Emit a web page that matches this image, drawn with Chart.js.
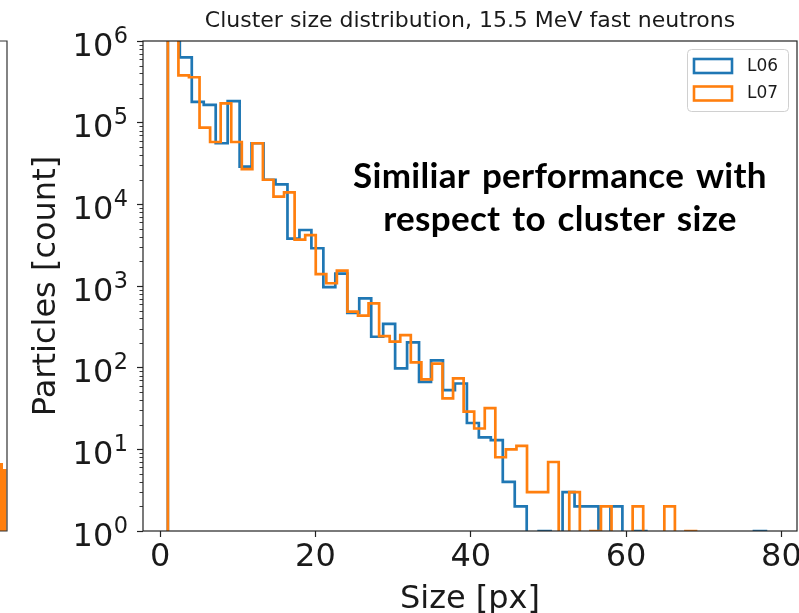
<!DOCTYPE html>
<html>
<head>
<meta charset="utf-8">
<script src="https://cdn.jsdelivr.net/npm/chart.js@4.4.1/dist/chart.umd.min.js"></script>
<style>
    html, body { margin: 0; padding: 0; background: #fff; }
    #wrap { width: 799px; height: 613px; position: relative; }
</style>
</head>
<body>
<div id="wrap"><canvas id="sizeChart" width="799" height="613"></canvas></div>
<script>
const seriesNames = ['L06', 'L07'];
const seriesColors = ['#1f77b4', '#ff7f0e'];
const l06Range = [1, 78];
const l07Range = [1, 69];

const l06Counts = [
    2500000, 630000, 180000, 165000, 56000, 184000, 29000, 56000, 20000, 17600,
    3800, 4850, 2900, 970, 1420, 470, 707, 239, 343, 98,
    204, 67, 123, 53, 64, 21, 14, 13, 4, 2,
    0, 1, 0, 3, 2, 2, 0, 2, 0, 1,
    0, 0, 0, 0, 0, 0, 0, 0, 0, 1,
];
const l07Counts = [
    2500000, 380000, 360000, 87000, 58000, 172000, 58000, 27000, 56000, 20000,
    12400, 14000, 3700, 4200, 1400, 1080, 1540, 485, 433, 614,
    244, 208, 251, 116, 72, 112, 42, 74, 29, 18,
    32, 8, 10, 11, 3, 3, 7, 0, 3, 0,
    1, 2, 0, 0, 2, 0, 0, 2, 0, 1,
];

const xTicks = [0, 20, 40, 60, 80];
const yTicks = [1, 10, 100, 1000, 10000, 100000, 1000000];

const titleText = 'Cluster size distribution, 15.5 MeV fast neutrons';
const xLabel = 'Size [px]';
const yLabel = 'Particles [count]';
const noteLines = ['Similiar performance with', 'respect to cluster size'];

const ink = '#1a1a1a';
const font = 'DejaVu Sans';

// empty bins sit below the log axis and get clipped, like matplotlib does
const floorValue = 0.01;

function stepPoints(range, counts) {
    const width = (range[1] - range[0]) / counts.length;
    const edge = (i) => range[0] + i * width;
    const pts = [{ x: edge(0), y: floorValue }];
    counts.forEach((c, i) => pts.push({ x: edge(i), y: c > 0 ? c : floorValue }));
    const last = counts[counts.length - 1];
    pts.push({ x: edge(counts.length), y: last > 0 ? last : floorValue });
    pts.push({ x: edge(counts.length), y: floorValue });
    return pts;
}

const decorations = {
    id: 'decorations',
    beforeDraw(chart) {
        const { ctx } = chart;
        ctx.save();
        ctx.fillStyle = '#fff';
        ctx.fillRect(0, 0, chart.width, chart.height);
        // edge of the neighbouring plot on the slide
        ctx.fillStyle = '#ff7f0e';
        ctx.fillRect(0, 463, 3, 68);
        ctx.fillRect(3, 469, 3.5, 62);
        ctx.strokeStyle = '#333';
        ctx.lineWidth = 1.2;
        ctx.beginPath();
        ctx.moveTo(0, 41);
        ctx.lineTo(7, 41);
        ctx.lineTo(7, 531);
        ctx.lineTo(0, 531);
        ctx.stroke();
        ctx.restore();
    },
    afterDatasetsDraw(chart) {
        const { ctx, chartArea: a } = chart;
        const y = chart.scales.y;
        ctx.save();
        // frame
        ctx.strokeStyle = '#222';
        ctx.lineWidth = 1.2;
        ctx.strokeRect(a.left, a.top, a.right - a.left, a.bottom - a.top);

        // minor log ticks
        ctx.lineWidth = 0.9;
        ctx.beginPath();
        for (let d = 0; d < yTicks.length - 1; d++) {
            for (let k = 2; k <= 9; k++) {
                const py = Math.round(y.getPixelForValue(k * yTicks[d])) + 0.5;
                ctx.moveTo(a.left - 3.5, py);
                ctx.lineTo(a.left, py);
            }
        }
        ctx.stroke();

        // y tick labels as 10 with a raised exponent
        ctx.fillStyle = ink;
        ctx.textBaseline = 'alphabetic';
        ctx.textAlign = 'left';
        yTicks.forEach((v) => {
            const py = y.getPixelForValue(v);
            const exp = String(Math.round(Math.log10(v)));
            ctx.font = `22.4px "${font}"`;
            const ew = ctx.measureText(exp).width;
            ctx.font = `32px "${font}"`;
            const bw = ctx.measureText('10').width;
            const right = a.left - 15;
            const base = py + 14.5;
            ctx.fillText('10', right - ew - bw - 0.5, base);
            ctx.font = `22.4px "${font}"`;
            ctx.fillText(exp, right - ew, base - 13);
        });

        // title
        const cx = (a.left + a.right) / 2;
        ctx.textAlign = 'center';
        ctx.font = `22px "${font}"`;
        ctx.fillText(titleText, cx, 27);

        // axis labels
        ctx.font = `32px "${font}"`;
        ctx.fillText(xLabel, cx, 608);
        ctx.save();
        ctx.translate(47, (a.top + a.bottom) / 2);
        ctx.rotate(-Math.PI / 2);
        ctx.textBaseline = 'middle';
        ctx.fillText(yLabel, 0, 0);
        ctx.restore();

        // annotation
        ctx.fillStyle = '#000';
        ctx.font = 'bold 35px Lato';
        ctx.letterSpacing = '0.3px';
        ctx.wordSpacing = '3px';
        ctx.fillText(noteLines[0], 560, 188);
        ctx.fillText(noteLines[1], 560, 231);
        ctx.letterSpacing = '0px';
        ctx.wordSpacing = '0px';

        // legend
        const lx = 687, ly = 49, lw = 101, lh = 62;
        ctx.beginPath();
        ctx.roundRect(lx + 0.5, ly + 0.5, lw, lh, 4);
        ctx.fillStyle = 'rgba(255,255,255,0.8)';
        ctx.fill();
        ctx.strokeStyle = '#d0d0d0';
        ctx.lineWidth = 1;
        ctx.stroke();
        chart.data.datasets.forEach((ds, i) => {
            const ry = 59 + i * 27.5;
            ctx.strokeStyle = ds.borderColor;
            ctx.lineWidth = 2.6;
            ctx.strokeRect(694, ry, 38, 14);
            ctx.fillStyle = ink;
            ctx.textAlign = 'left';
            ctx.textBaseline = 'middle';
            ctx.font = `17px "${font}"`;
            ctx.fillText(ds.label, 747, ry + 7.5);
        });
        ctx.restore();
    },
};

new Chart(document.getElementById('sizeChart'), {
    type: 'line',
    data: {
        datasets: [
            {
                label: seriesNames[0],
                data: stepPoints(l06Range, l06Counts),
                borderColor: seriesColors[0],
                order: 2,
            },
            {
                label: seriesNames[1],
                data: stepPoints(l07Range, l07Counts),
                borderColor: seriesColors[1],
                order: 1,
            },
        ],
    },
    options: {
        responsive: false,
        animation: false,
        devicePixelRatio: 1,
        events: [],
        layout: { padding: { top: 41, right: 2, left: 0, bottom: 0 } },
        elements: {
            line: { borderWidth: 2.7, stepped: 'before', fill: false, tension: 0, borderJoinStyle: 'miter' },
            point: { radius: 0 },
        },
        datasets: { line: { clip: { left: 0, top: 0, right: 0, bottom: 0 } } },
        plugins: {
            legend: { display: false },
            tooltip: { enabled: false },
            title: { display: false },
        },
        scales: {
            x: {
                type: 'linear',
                min: -2.2,
                max: 82,
                afterBuildTicks: (s) => { s.ticks = xTicks.map((v) => ({ value: v })); },
                afterFit: (s) => { s.height = 82; s.paddingLeft = 0; s.paddingRight = 0; },
                grid: { drawOnChartArea: false, drawTicks: true, tickLength: 6, tickColor: '#222', tickWidth: 1.2 },
                border: { display: false },
                ticks: {
                    font: { family: font, size: 32 },
                    color: ink,
                    padding: 1,
                    maxRotation: 0,
                    autoSkip: false,
                },
            },
            y: {
                type: 'logarithmic',
                min: 1,
                max: 1000000,
                afterBuildTicks: (s) => { s.ticks = yTicks.map((v) => ({ value: v, major: true })); },
                afterFit: (s) => { s.width = 143; s.paddingTop = 0; s.paddingBottom = 0; },
                grid: { drawOnChartArea: false, drawTicks: true, tickLength: 6, tickColor: '#222', tickWidth: 1.2 },
                border: { display: false },
                ticks: {
                    display: false,
                },
            },
        },
    },
    plugins: [decorations],
});
</script>
</body>
</html>
